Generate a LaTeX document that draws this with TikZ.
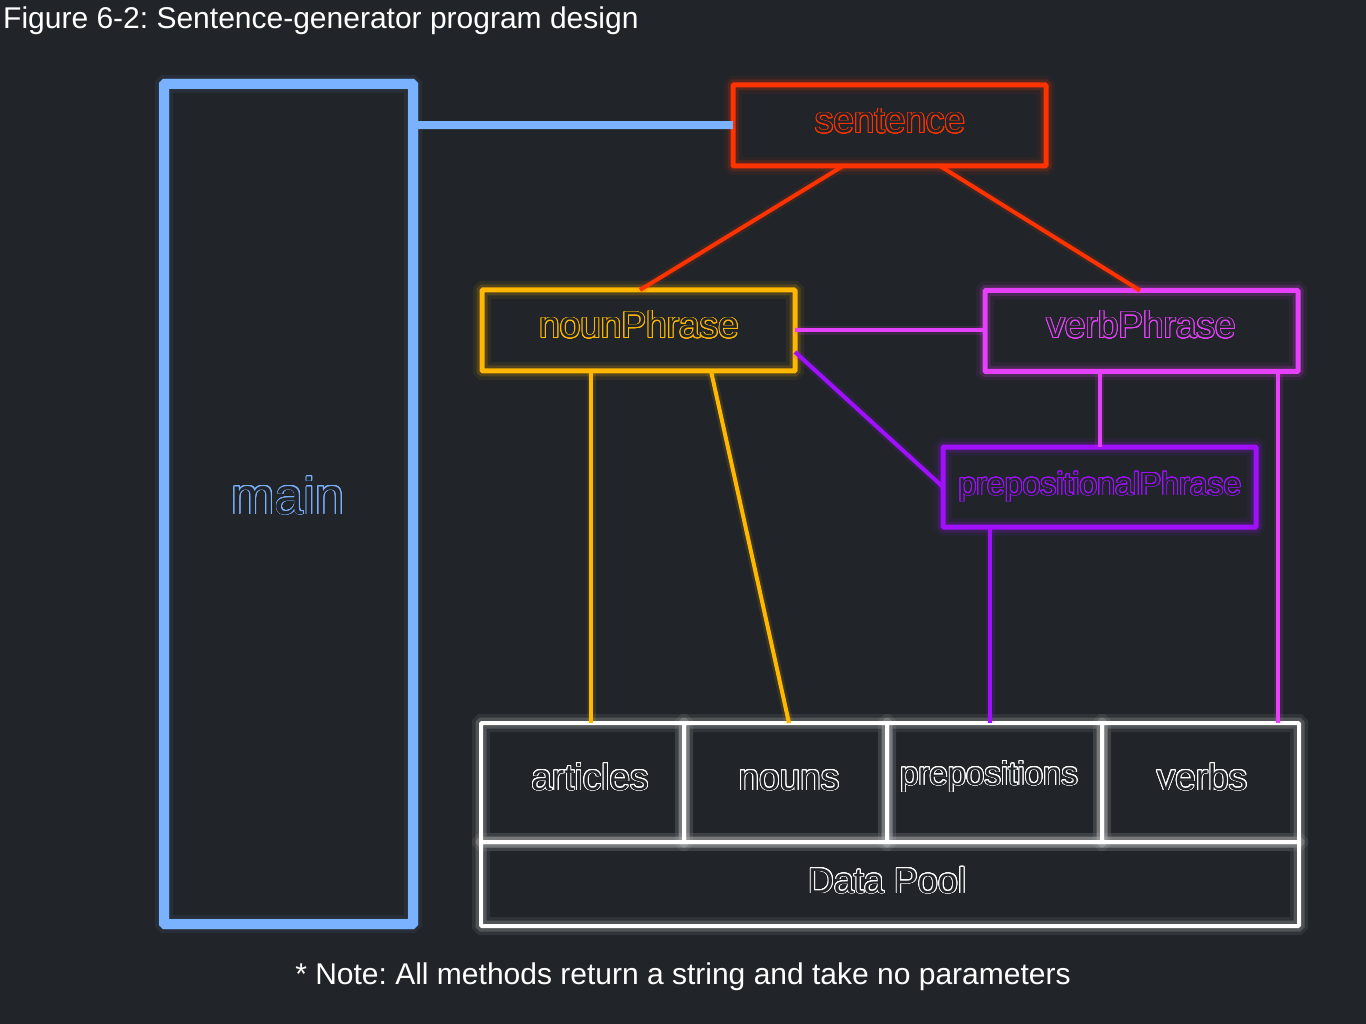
\documentclass[tikz,border=0pt]{standalone}
\usepackage{fontspec}
\setmainfont{Liberation Sans}
\usepackage{contour}
\contourlength{0.9pt}
\contournumber{24}
\frenchspacing
\definecolor{bgc}{RGB}{33,37,41}
\definecolor{cblue}{RGB}{122,178,255}
\definecolor{cred}{RGB}{255,51,0}
\definecolor{corange}{RGB}{255,183,0}
\definecolor{cmagenta}{RGB}{230,64,250}
\definecolor{cpurple}{RGB}{160,16,255}
\newcommand{\outlinetxt}[2]{\contour{#1}{\textcolor{bgc}{#2}}}
\begin{document}
\frenchspacing
\begin{tikzpicture}[x=1pt,y=-1pt,
  glowbox/.style={draw=#1, line width=5pt, rounded corners=1pt, inner sep=0pt, outer sep=0pt,
    preaction={draw=#1, line width=18pt, opacity=0.07},
    preaction={draw=#1, line width=11pt, opacity=0.16}},
  glowline/.style={draw=#1, line width=4pt,
    preaction={draw=#1, line width=9pt, opacity=0.12}},
  lbl/.style={anchor=base, inner sep=0pt, font=\fontsize{37}{42}\selectfont},
  plain/.style={text=white, inner sep=0pt, font=\fontsize{30}{36}\selectfont},
]
\fill[bgc] (0,0) rectangle (1366,1024);
\useasboundingbox (0,0) rectangle (1366,1024);

% title and note
\node[plain, anchor=base west] (title) at (3,29) {Figure 6-2: Sentence-generator program design};
\node[plain, anchor=base] (note) at (683,984) {* Note: All methods return a string and take no parameters};

% boxes
\node[glowbox=cblue, line width=10pt, minimum width=249pt, minimum height=840pt] (main) at (288.5,504) {};
\node[glowbox=cred, minimum width=313pt, minimum height=81pt] (sentence) at (889.5,125.5) {};
\node[glowbox=corange, minimum width=313pt, minimum height=81pt] (nounPhrase) at (638.5,330.5) {};
\node[glowbox=cmagenta, minimum width=313pt, minimum height=81pt] (verbPhrase) at (1141.5,331) {};
\node[glowbox=cpurple, minimum width=313pt, minimum height=80pt] (prepPhrase) at (1099.5,487) {};

% data pool
\node[glowbox=white, line width=4pt, minimum width=203pt, minimum height=119pt] (articles) at (582.5,782.5) {};
\node[glowbox=white, line width=4pt, minimum width=203pt, minimum height=119pt] (nouns) at (785.5,782.5) {};
\node[glowbox=white, line width=4pt, minimum width=215pt, minimum height=119pt] (prepositions) at (994.5,782.5) {};
\node[glowbox=white, line width=4pt, minimum width=197pt, minimum height=119pt] (verbs) at (1200.5,782.5) {};
\node[glowbox=white, line width=4pt, minimum width=818pt, minimum height=84pt] (datapool) at (890,884) {};

% labels
\node[lbl, font=\fontsize{52}{58}\selectfont] (tmain) at (288,514) {\outlinetxt{cblue}{main}};
\node[lbl] (tsentence) at (890,133) {\outlinetxt{cred}{sentence}};
\node[lbl] (tnoun) at (639,338) {\outlinetxt{corange}{nounPhrase}};
\node[lbl] (tverb) at (1141,338) {\outlinetxt{cmagenta}{verbPhrase}};
\node[lbl, font=\fontsize{32}{38}\selectfont] (tprep) at (1100,495) {\outlinetxt{cpurple}{prepositionalPhrase}};
\node[lbl] (tarticles) at (590,790) {\outlinetxt{white}{articles}};
\node[lbl] (tnouns) at (789,790) {\outlinetxt{white}{nouns}};
\node[lbl, font=\fontsize{33}{38}\selectfont] (tpreps) at (989,785) {\outlinetxt{white}{prepositions}};
\node[lbl] (tverbs) at (1202,790) {\outlinetxt{white}{verbs}};
\node[lbl, font=\fontsize{36}{42}\selectfont] (tpool) at (887,893) {\outlinetxt{white}{Data Pool}};

% connectors
\draw[glowline=cblue, line width=8pt] (main.east |- sentence.west) -- (sentence.west);
\draw[glowline=cred] ([xshift=-46.5pt]sentence.south) -- ([xshift=1.5pt]nounPhrase.north);
\draw[glowline=cred] ([xshift=50.5pt]sentence.south) -- ([xshift=-1.5pt]verbPhrase.north);
\draw[glowline=cmagenta] (nounPhrase.east) -- (nounPhrase.east -| verbPhrase.west);
\draw[glowline=cpurple] ([yshift=19pt]nounPhrase.south east) -- (prepPhrase.west);
\draw[glowline=cmagenta] (prepPhrase.north) -- (prepPhrase.north |- verbPhrase.south);
\draw[glowline=cmagenta] ([xshift=-20pt]verbPhrase.south east) -- ([xshift=-20pt]verbPhrase.south east |- verbs.north);
\draw[glowline=cpurple] ([xshift=47pt]prepPhrase.south west) -- ([xshift=47pt]prepPhrase.south west |- prepositions.north);
\draw[glowline=corange] ([xshift=109pt]nounPhrase.south west) -- ([xshift=109pt]nounPhrase.south west |- articles.north);
\draw[glowline=corange] ([xshift=229pt]nounPhrase.south west) -- ([xshift=3.5pt]nouns.north);
\end{tikzpicture}
\end{document}
